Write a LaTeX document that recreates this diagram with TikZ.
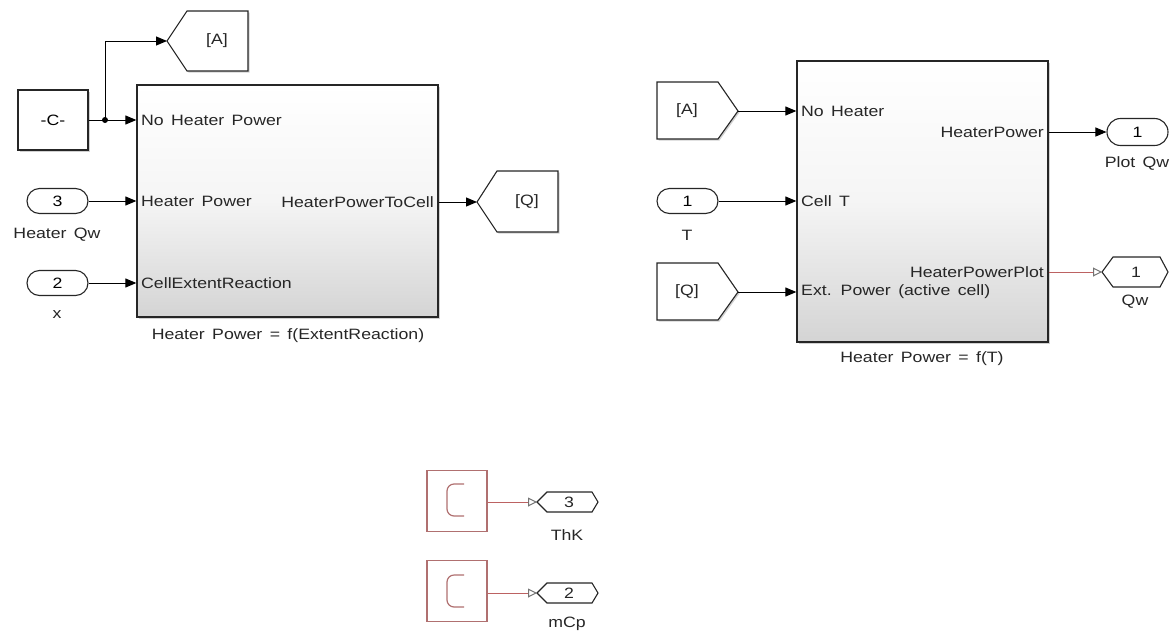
\documentclass[tikz,border=0pt]{standalone}
\usepackage{fontspec}
\setmainfont{Liberation Sans}[FakeStretch=1.18,WordSpace=1.5]
\usetikzlibrary{arrows.meta,shapes.misc,calc,shadows}
\definecolor{cred}{RGB}{176,112,112}
\definecolor{lred}{RGB}{188,98,98}
\definecolor{bot}{RGB}{212,212,212}
\tikzset{
  shd/.style={drop shadow={shadow xshift=1.5pt,shadow yshift=-1.5pt,opacity=.18,fill=black}},
  blk/.style={draw=black!85,line width=1.3pt,inner sep=0,top color=white,bottom color=bot,middle color=white!96!black,shd},
  plainbox/.style={draw=black!85,line width=1.1pt,inner sep=0,fill=white,shd},
  inport/.style={draw=black!85,line width=1.1pt,rounded rectangle,inner sep=0,minimum width=61pt,minimum height=25pt,fill=white},
  tagshape/.style={draw=black!85,line width=1.1pt,fill=white,shd},
  hexshape/.style={draw=black!85,line width=1.1pt,fill=white},
  cbox/.style={draw=cred,line width=1.2pt,inner sep=0,minimum width=60pt,minimum height=61pt,fill=white},
  cglyph/.style={draw=cred,line width=1.2pt,rounded corners=7pt},
  sig/.style={line width=1pt,-{Triangle[length=11pt,width=9pt]}},
  rsig/.style={draw=lred,line width=1pt,-{Triangle[open,length=9pt,width=9pt,color=black!55]}},
  lbl/.style={inner sep=0,text=black!85},
  plbl/.style={inner sep=0,anchor=west,text=black!85},
  prlbl/.style={inner sep=0,anchor=east,text=black!85},
}
\begin{document}
\begin{tikzpicture}[x=1pt,y=-1pt,font=\fontsize{15}{17}\selectfont]
\useasboundingbox (0,0) rectangle (1174,632);

% ---------- left subsystem ----------
\node[blk,minimum width=301pt,minimum height=232pt] (BL) at (287.5,201) {};
\node[plbl] at (141,120) {No Heater Power};
\node[plbl] at (141,201) {Heater Power};
\node[plbl] at (141,283) {CellExtentReaction};
\node[prlbl] at (434,202) {HeaterPowerToCell};
\node[lbl] (capL) at (288,336) {Heater Power = f(ExtentReaction)};

\node[plainbox,minimum width=70pt,minimum height=60pt] (cC) at (53,120) {-C-};
\coordinate (j) at (105,120);

% goto [A]
\draw[tagshape] (167,41) -- (187,11) -- (248,11) -- (248,71) -- (187,71) -- cycle;
\coordinate (gAt) at (167,41);
\node[lbl] (gA) at (217,41) {[A]};

% goto [Q]
\draw[tagshape] (477,202) -- (497,171) -- (558,171) -- (558,232) -- (497,232) -- cycle;
\coordinate (gQt) at (477,202);
\node[lbl] (gQ) at (527,202) {[Q]};

% inports
\node[inport] (in3) at (57.5,201) {3};
\node[lbl] at (57,235) {Heater Qw};
\node[inport] (in2) at (57.5,283) {2};
\node[lbl] at (57,315) {x};

\draw[line width=1pt] (cC.east) -- (j);
\fill (j) circle (3);
\draw[sig] (j) -- (j |- gAt) -- (gAt);
\draw[sig] (j) -- (j -| BL.west);
\draw[sig] (in3.east) -- (in3.east -| BL.west);
\draw[sig] (in2.east) -- (in2.east -| BL.west);
\draw[sig] (BL.east |- gQt) -- (gQt);

% ---------- right subsystem ----------
\node[blk,minimum width=251pt,minimum height=281pt] (BR) at (922.5,201.5) {};
\node[plbl] at (801,111) {No Heater};
\node[plbl] at (801,201) {Cell T};
\node[plbl] at (801,292) {Ext. Power (active cell)};
\node[prlbl] at (1044,132) {HeaterPower};
\node[prlbl] at (1044,272) {HeaterPowerPlot};
\node[lbl] (capR) at (922,359) {Heater Power = f(T)};

% from [A]
\draw[tagshape] (657,82) -- (718,82) -- (738,111) -- (718,139) -- (657,139) -- cycle;
\coordinate (fAt) at (738,111);
\node[lbl] (fA) at (687,111) {[A]};
% from [Q]
\draw[tagshape] (657,263) -- (718,263) -- (738,292) -- (718,320) -- (657,320) -- cycle;
\coordinate (fQt) at (738,292);
\node[lbl] (fQ) at (687,292) {[Q]};

\node[inport] (in1) at (687.5,201) {1};
\node[lbl] at (687,235) {T};

\node[inport,minimum height=27pt] (po1) at (1137.5,132) {1};
\node[lbl] at (1137,163) {Plot Qw};

\draw[hexshape] (1102,272) -- (1113,257) -- (1160,257) -- (1168,272) -- (1160,287) -- (1113,287) -- cycle;
\coordinate (qwL) at (1102,272);
\node[lbl] (qw) at (1136,272) {1};
\node[lbl] at (1135,302) {Qw};

\draw[sig] (fAt) -- (fAt -| BR.west);
\draw[sig] (in1.east) -- (in1.east -| BR.west);
\draw[sig] (fQt) -- (fQt -| BR.west);
\draw[sig] (BR.east |- po1.west) -- (po1.west);
\draw[rsig] (BR.east |- qwL) -- (qwL);

% ---------- constants ----------
\node[cbox] (c1) at (457,501) {};
\draw[cglyph] (464,484) -- (447,484) -- (447,516) -- (464,516);
\draw[hexshape] (537,502) -- (547,492) -- (592,492) -- (598,502) -- (592,512) -- (547,512) -- cycle;
\coordinate (h3L) at (537,502);
\node[lbl] (h3) at (569,502) {3};
\node[lbl] at (567,535) {ThK};
\draw[rsig] (c1.east |- h3L) -- (h3L);

\node[cbox] (c2) at (457,591) {};
\draw[cglyph] (464,575) -- (447,575) -- (447,607) -- (464,607);
\draw[hexshape] (537,593) -- (547,583) -- (592,583) -- (598,593) -- (592,603) -- (547,603) -- cycle;
\coordinate (h2L) at (537,593);
\node[lbl] (h2) at (569,593) {2};
\node[lbl] at (567,624) {mCp};
\draw[rsig] (c2.east |- h2L) -- (h2L);
\end{tikzpicture}
\end{document}
